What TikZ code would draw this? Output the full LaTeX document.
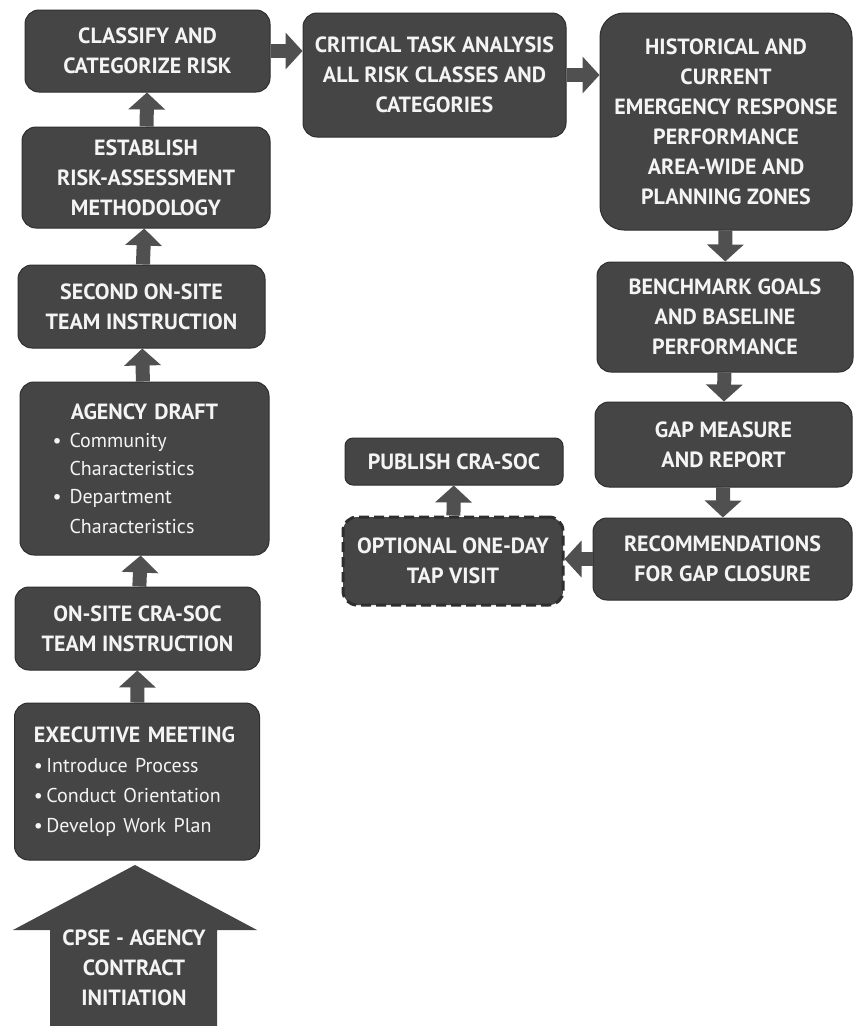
\documentclass[tikz,border=0pt]{standalone}
\usepackage{fontspec}
\setmainfont{PT Sans}
\usepackage{tikz}
\usetikzlibrary{arrows.meta}
\definecolor{boxGray}{HTML}{454545}
\definecolor{arrowGray}{HTML}{505050}
\definecolor{edgeGray}{HTML}{2E2E2E}
\definecolor{textWhite}{HTML}{F4F4F4}
\newcommand{\bul}[2]{\makebox[17pt][l]{\textbullet}#1\\\hspace*{17pt}#2}

\begin{document}
\begin{tikzpicture}[x=1pt, y=-1pt,
        every node/.style={font=\fontsize{22}{30}\selectfont\bfseries}]
        \tikzstyle{boxStyle} = [rectangle, rounded corners=14pt, fill=boxGray,
                                draw=edgeGray, line width=1, text=textWhite,
                                align=center, inner sep=0pt]
        \tikzstyle{dashStyle} = [boxStyle, line width=3, dash pattern=on 10pt off 5pt]
        \tikzstyle{blockArrow} = [draw=arrowGray, line width=14,
                                  -{Triangle[width=36pt,length=17pt]}]
        \clip (0,0) rectangle (854,1026);
        \fill[white] (0,0) rectangle (854,1026);
        % left column
        \node[boxStyle, minimum width=245, minimum height=82] (classify) at (147.5,51)
            {CLASSIFY AND\\CATEGORIZE RISK};
        \node[boxStyle, minimum width=248, minimum height=101] (establish) at (146,177.5)
            {ESTABLISH\\RISK-ASSESSMENT\\METHODOLOGY};
        \node[boxStyle, minimum width=247, minimum height=83] (second) at (141.5,306.5)
            {SECOND ON-SITE\\TEAM INSTRUCTION};
        \node[boxStyle, minimum width=249, minimum height=173, text width=184,
              align=left] (agency) at (144.5,468.5)
            {{\centering AGENCY DRAFT\par}
             \fontsize{20}{28}\selectfont\mdseries
             \bul{Community}{Characteristics}\\
             \bul{Department}{Characteristics}};
        \node[boxStyle, minimum width=245, minimum height=83] (onsite) at (137.5,628.5)
            {ON-SITE CRA-SOC\\TEAM INSTRUCTION};
        \node[boxStyle, minimum width=245, minimum height=157, text width=206,
              align=left] (executive) at (137,781.5)
            {EXECUTIVE MEETING\\
             \fontsize{20}{30}\selectfont\mdseries\textbullet\thinspace Introduce Process\\
             \textbullet\thinspace Conduct Orientation\\
             \textbullet\thinspace Develop Work Plan};
        % contract arrow
        \fill[boxGray] (50,1040) -- (50,930) -- (13,930) -- (135,865)
            -- (257,930) -- (217,930) -- (217,1040) -- cycle;
        \node[text=textWhite, align=center] (contract) at (134,968)
            {CPSE - AGENCY\\CONTRACT\\INITIATION};
        % top row and right column
        \node[boxStyle, minimum width=263, minimum height=124] (critical) at (434.5,75)
            {CRITICAL TASK ANALYSIS\\ALL RISK CLASSES AND\\CATEGORIES};
        \node[boxStyle, rounded corners=24pt, minimum width=252, minimum height=217]
            (history) at (726,121.5)
            {HISTORICAL AND\\CURRENT\\EMERGENCY RESPONSE\\PERFORMANCE\\AREA-WIDE AND\\PLANNING ZONES};
        \node[boxStyle, minimum width=256, minimum height=110] (benchmark) at (725,317)
            {BENCHMARK GOALS\\AND BASELINE\\PERFORMANCE};
        \node[boxStyle, minimum width=257, minimum height=85] (gap) at (723.5,444.5)
            {GAP MEASURE\\AND REPORT};
        \node[boxStyle, minimum width=259, minimum height=82] (recommend) at (722.5,559)
            {RECOMMENDATIONS\\FOR GAP CLOSURE};
        \node[dashStyle, minimum width=220, minimum height=88] (optional) at (453,561)
            {OPTIONAL ONE-DAY\\TAP VISIT};
        \node[boxStyle, rounded corners=8pt, minimum width=218, minimum height=47]
            (publish) at (454,461.5) {PUBLISH CRA-SOC};
        % arrows
        \foreach \from/\to in {establish/classify, second/establish, agency/second,
                               onsite/agency, executive/onsite, history/benchmark,
                               benchmark/gap, gap/recommend, optional/publish}
            \draw[blockArrow] (\from) -- (\to);
        \draw[blockArrow] (classify.east) -- (classify.east -| critical.west);
        \draw[blockArrow] (critical.east) -- (critical.east -| history.west);
        \draw[blockArrow] (recommend.west) -- (recommend.west -| optional.east);
    \end{tikzpicture}
\end{document}
